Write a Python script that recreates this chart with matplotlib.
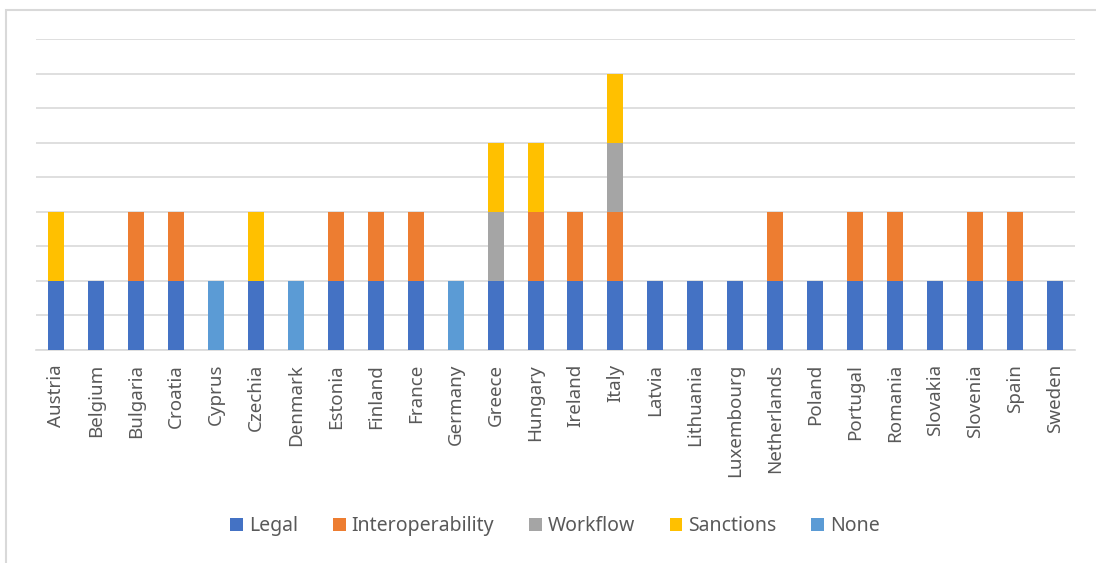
import matplotlib
matplotlib.use('Agg')
import matplotlib.pyplot as plt
from matplotlib.patches import Rectangle, Patch
import numpy as np

countries = ['Austria', 'Belgium', 'Bulgaria', 'Croatia', 'Cyprus', 'Czechia', 'Denmark',
             'Estonia', 'Finland', 'France', 'Germany', 'Greece', 'Hungary', 'Ireland',
             'Italy', 'Latvia', 'Lithuania', 'Luxembourg', 'Netherlands', 'Poland',
             'Portugal', 'Romania', 'Slovakia', 'Slovenia', 'Spain', 'Sweden']

legal            = [1, 1, 1, 1, 0, 1, 0, 1, 1, 1, 0, 1, 1, 1, 1, 1, 1, 1, 1, 1, 1, 1, 1, 1, 1, 1]
interoperability = [0, 0, 1, 1, 0, 0, 0, 1, 1, 1, 0, 0, 1, 1, 1, 0, 0, 0, 1, 0, 1, 1, 0, 1, 1, 0]
workflow         = [0, 0, 0, 0, 0, 0, 0, 0, 0, 0, 0, 1, 0, 0, 1, 0, 0, 0, 0, 0, 0, 0, 0, 0, 0, 0]
sanctions        = [1, 0, 0, 0, 0, 1, 0, 0, 0, 0, 0, 1, 1, 0, 1, 0, 0, 0, 0, 0, 0, 0, 0, 0, 0, 0]
none             = [0, 0, 0, 0, 1, 0, 1, 0, 0, 0, 1, 0, 0, 0, 0, 0, 0, 0, 0, 0, 0, 0, 0, 0, 0, 0]

series = [('Legal', legal, '#4472C4'),
          ('Interoperability', interoperability, '#ED7D31'),
          ('Workflow', workflow, '#A5A5A5'),
          ('Sanctions', sanctions, '#FFC000'),
          ('None', none, '#5B9BD5')]

plt.rcParams['font.family'] = ['Noto Sans', 'DejaVu Sans']

fig = plt.figure(figsize=(10.96, 5.63), dpi=100)
# light outer frame (only left and top edges are visible in the crop)
fig.patches.append(Rectangle((5.5 / 1096, -0.01), 1.1, 1 - 9.5 / 563 + 0.01,
                             transform=fig.transFigure, fill=False,
                             edgecolor='#D9D9D9', linewidth=1.5))

ax = fig.add_axes([36 / 1096, 1 - 350 / 563, (1075 - 36) / 1096, (350 - 39) / 563])
x = np.arange(len(countries))
bottom = np.zeros(len(countries))
for name, vals, color in series:
    vals = np.array(vals, dtype=float)
    ax.bar(x, vals, width=0.4, bottom=bottom, color=color, zorder=3)
    bottom += vals

ax.set_xlim(-0.5, len(countries) - 0.5)
ax.set_ylim(0, 4.5)
ax.set_yticks(np.arange(0, 4.51, 0.5))
ax.set_yticklabels([])
ax.tick_params(axis='y', length=0)
ax.grid(axis='y', color='#D9D9D9', linewidth=1.2, zorder=0)
for s in ['top', 'right', 'left']:
    ax.spines[s].set_visible(False)
ax.spines['bottom'].set_color('#D9D9D9')
ax.spines['bottom'].set_linewidth(1.2)
ax.set_xticks(x)
ax.set_xticklabels(countries, rotation=90, fontsize=13.5, color='#595959')
ax.tick_params(axis='x', length=0, pad=10)

handles = [Patch(facecolor=c, label=n) for n, _, c in series]
fig.legend(handles=handles, loc='center', bbox_to_anchor=(555 / 1096, 1 - 526 / 563),
           ncol=5, frameon=False, fontsize=14, handlelength=0.65, handleheight=0.65,
           handletextpad=0.3, columnspacing=1.8, labelcolor='#595959')

fig.savefig('out.png', dpi=100)
